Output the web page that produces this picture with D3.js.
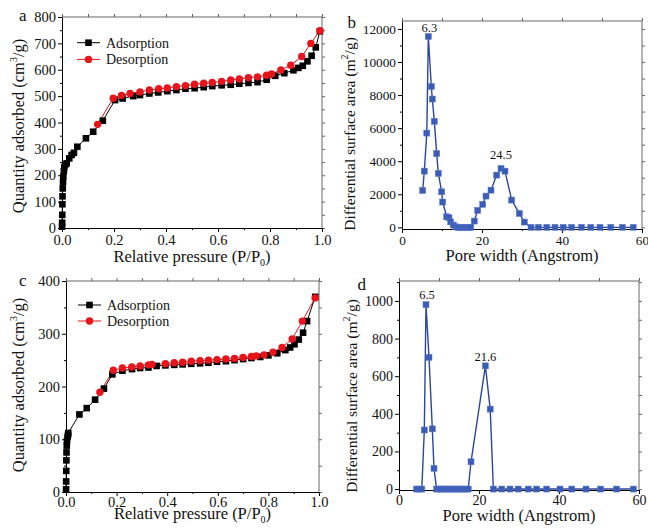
<!DOCTYPE html>
<html><head><meta charset="utf-8">
<script src="https://d3js.org/d3.v7.min.js"></script>
<style>
body{margin:0;background:#fff;}
svg{display:block;font-family:"Liberation Serif","Times New Roman",serif;}
</style></head>
<body><svg id="chart" width="648" height="528"></svg>
<script>
// ---------- DATA ----------
// Panel a: N2 isotherm (sample 1)
const aAdsP = [0.0003,0.0006,0.001,0.0015,0.002,0.003,0.004,0.005,0.007,0.009,0.012,0.018,0.028,0.037,0.046,0.059,0.092,0.12,0.157,0.204,0.233,0.274,0.30,0.336,0.37,0.405,0.44,0.475,0.51,0.545,0.578,0.614,0.649,0.682,0.717,0.752,0.787,0.82,0.855,0.89,0.909,0.926,0.944,0.96,0.976,0.992];
const aAdsV = [5,20,50,90,120,150,175,195,215,230,240,245,264,277,285,308,340,365,407,485,491,500,504,510,514,519,523,528,530,534,538,541,543,547,550,553,562,577,587,598,607,615,632,653,685,746];
const aDesP = [0.992,0.957,0.922,0.88,0.842,0.806,0.787,0.752,0.717,0.682,0.649,0.614,0.578,0.545,0.51,0.475,0.44,0.405,0.372,0.336,0.30,0.262,0.229,0.197,0.137];
const aDesV = [748,700,650,617,599,584,579,573,570,565,561,556,552,549,545,540,536,531,528,523,516,510,503,492,393];
// Panel b: pore size distribution (sample 1)
const bW = [5.17,5.58,6.2,6.58,7.33,7.58,8.08,8.67,9.08,9.92,10.17,11.17,11.75,12.17,12.83,13.5,14,14.67,15.33,16,16.67,17.2,18.08,18.92,20.17,21,22.25,23.67,24.75,25.75,27.42,29.33,30.58,32.25,34.1,36.2,38.25,40.3,42.4,44.9,47.2,49.5,52.2,55.1,57.8];
const bV = [2230,3400,5700,11540,8520,7760,6410,4460,3260,2150,1530,640,580,330,140,30,0,0,0,0,0,0,380,1025,1390,1890,2250,3160,3560,3400,1650,840,320,0,0,0,0,0,0,0,0,0,0,0,0];
// Panel c: N2 isotherm (sample 2)
const cAdsP = [0.0003,0.0006,0.001,0.0015,0.002,0.003,0.004,0.006,0.008,0.009,0.053,0.082,0.115,0.150,0.183,0.223,0.261,0.293,0.326,0.358,0.393,0.428,0.461,0.495,0.53,0.563,0.597,0.632,0.666,0.70,0.733,0.768,0.80,0.835,0.867,0.886,0.903,0.92,0.937,0.953,0.985];
const cAdsV = [5,20,40,60,75,88,97,104,108,112,147,159,175,196,223,230,233,235,236,239,240,241,242,243,244,245,247,248,250,252,254,256,259,263,269,274,280,289,302,324,370];
const cDesP = [0.985,0.934,0.894,0.854,0.818,0.783,0.752,0.733,0.70,0.666,0.632,0.597,0.563,0.53,0.495,0.461,0.428,0.393,0.34,0.326,0.293,0.26,0.223,0.187,0.134];
const cDesV = [368,324,290,274,265,260,258,257,255,253,252,251,250,249,248,246,245,243,242,241,239,237,235,231,189];
// Panel d: pore size distribution (sample 2)
const dW = [4.4,5.0,5.7,6.33,6.75,7.5,8.33,8.75,9.4,10,10.6,11.3,12,12.6,13.3,14,14.6,15.3,16,16.6,17.3,18,21.6,22.8,23.6,25.7,27.75,29.8,32.3,34.4,36.9,40.25,43.2,46.75,50.4,54.4,58.6];
const dV = [0,0,0,314,980,700,320,110,0,0,0,0,0,0,0,0,0,0,0,0,0,145,655,425,0,0,0,0,0,0,0,0,0,0,0,0,0];
// Ticks and labels
const isoXTicks = [0,0.2,0.4,0.6,0.8,1.0];
const aYTicks = [0,100,200,300,400,500,600,700,800];
const cYTicks = [0,100,200,300,400];
const poreXTicks = [0,20,40,60];
const bYTicks = [0,2000,4000,6000,8000,10000,12000];
const dYTicks = [0,200,400,600,800,1000];
const legendNames = ["Adsorption","Desorption"];
const bPeaks = [{w:6.58,v:11540,t:"6.3"},{w:24.75,v:3560,t:"24.5"}];
const dPeaks = [{w:6.75,v:980,t:"6.5"},{w:21.6,v:655,t:"21.6"}];

// ---------- DRAW ----------
const svg = d3.select("#chart");
const RED = "#e8141c", BLUE_L = "#2c4797", BLUE_M = "#3b5cb6";
const SERIF = "Liberation Serif, Times New Roman, serif";

function zip(xs, ys){ return xs.map((x,i)=>[x, ys[i]]); }

function frame(g, x, y, cfg){
  const [x0,x1] = x.range(), [y0,y1] = y.range();
  g.append("g").attr("transform",`translate(0,${y0})`)
    .call(d3.axisBottom(x).tickValues(cfg.xMinor).tickSize(2).tickSizeOuter(0).tickFormat(""))
    .call(s=>s.select(".domain").remove());
  g.append("g").attr("transform",`translate(${x0},0)`)
    .call(d3.axisLeft(y).tickValues(cfg.yMinor).tickSize(2).tickSizeOuter(0).tickFormat(""))
    .call(s=>s.select(".domain").remove());
  g.append("g").attr("transform",`translate(0,${y1})`)
    .call(d3.axisTop(x).tickValues(cfg.xMinor.concat(cfg.xTicks)).tickSize(3).tickSizeOuter(0).tickFormat(""))
    .call(s=>{s.select(".domain").remove(); s.selectAll("line").attr("stroke","#666");});
  g.append("g").attr("transform",`translate(${x1},0)`)
    .call(d3.axisRight(y).tickValues(cfg.yMinor.concat(cfg.yTicks)).tickSize(3).tickSizeOuter(0).tickFormat(""))
    .call(s=>{s.select(".domain").remove(); s.selectAll("line").attr("stroke","#666");});
  g.append("line").attr("x1",x0).attr("x2",x1).attr("y1",y1).attr("y2",y1).attr("stroke","#666");
  g.append("line").attr("x1",x1).attr("x2",x1).attr("y1",y0).attr("y2",y1).attr("stroke","#666");
  const ax = g.append("g").attr("transform",`translate(0,${y0})`)
    .call(d3.axisBottom(x).tickValues(cfg.xTicks).tickSize(4).tickSizeOuter(0).tickPadding(cfg.xPad).tickFormat(cfg.fmtX));
  ax.attr("font-family",SERIF);
  ax.select(".domain").attr("stroke","#000");
  ax.selectAll("text").attr("font-family",SERIF).attr("font-size",cfg.tickFont).attr("fill","#111");
  const ay = g.append("g").attr("transform",`translate(${x0},0)`)
    .call(d3.axisLeft(y).tickValues(cfg.yTicks).tickSize(4).tickSizeOuter(0).tickPadding(2).tickFormat(cfg.fmtY));
  ay.attr("font-family",SERIF);
  ay.select(".domain").attr("stroke","#000");
  ay.selectAll("text").attr("font-family",SERIF).attr("font-size",cfg.tickFont).attr("fill","#111");
}

function yTitle(g, xb, yc, fs, parts){
  const t = g.append("text").attr("transform",`translate(${xb},${yc}) rotate(-90)`)
    .attr("text-anchor","middle").attr("font-size",fs).attr("fill","#111");
  parts.forEach(p=>{
    const ts = t.append("tspan").text(p.t);
    if(p.sup){ ts.attr("font-size",10).attr("dy",-7); }
    if(p.back){ ts.attr("dy",7); }
  });
}
function xTitleIso(g, xc, yb){
  const t = g.append("text").attr("x",xc).attr("y",yb).attr("text-anchor","middle")
    .attr("font-size",16.5).attr("fill","#111");
  t.append("tspan").text("Relative pressure (P/P");
  t.append("tspan").text("0").attr("font-size",10).attr("dy",4);
  t.append("tspan").text(")").attr("dy",-4);
}

function isoPanel(cfg){
  const g = svg.append("g");
  const x = d3.scaleLinear().domain([0,1]).range(cfg.xr);
  const y = d3.scaleLinear().domain(cfg.yd).range(cfg.yr);
  frame(g, x, y, {xTicks:isoXTicks, xMinor:[0.1,0.3,0.5,0.7,0.9],
    yTicks:cfg.yTicks, yMinor:cfg.yTicks.slice(0,-1).map(v=>v+50),
    fmtX:d3.format(".1f"), fmtY:d3.format("d"), tickFont:14.5, xPad:cfg.xPad});
  const line = d3.line().x(d=>x(d[0])).y(d=>y(d[1]));
  const ads = zip(cfg.adsP, cfg.adsV), des = zip(cfg.desP, cfg.desV);
  g.append("path").datum(des).attr("d",line).attr("fill","none").attr("stroke",RED).attr("stroke-width",1);
  g.append("path").datum(ads).attr("d",line).attr("fill","none").attr("stroke","#000").attr("stroke-width",1);
  g.selectAll(".sq").data(ads).join("rect").attr("x",d=>x(d[0])-3.3).attr("y",d=>y(d[1])-3.3)
    .attr("width",6.6).attr("height",6.6).attr("fill","#000");
  g.selectAll(".ci").data(des).join("circle").attr("cx",d=>x(d[0])).attr("cy",d=>y(d[1]))
    .attr("r",3.7).attr("fill",RED);
  const [lx, ly] = cfg.leg;
  const L = g.append("g");
  L.append("line").attr("x1",lx).attr("x2",lx+23).attr("y1",ly).attr("y2",ly).attr("stroke","#000");
  L.append("rect").attr("x",lx+11.5-3.3).attr("y",ly-3.3).attr("width",6.6).attr("height",6.6).attr("fill","#000");
  L.append("text").attr("x",lx+29).attr("y",ly+5).attr("font-size",14).attr("fill","#111").text(legendNames[0]);
  L.append("line").attr("x1",lx).attr("x2",lx+23).attr("y1",ly+cfg.legGap).attr("y2",ly+cfg.legGap).attr("stroke",RED);
  L.append("circle").attr("cx",lx+11.5).attr("cy",ly+cfg.legGap).attr("r",3.7).attr("fill",RED);
  L.append("text").attr("x",lx+29).attr("y",ly+cfg.legGap+5).attr("font-size",14).attr("fill","#111").text(legendNames[1]);
  yTitle(g, cfg.ytx, cfg.ytc, 16.5, [{t:"Quantity adsorbed (cm"},{t:"3",sup:true},{t:"/g)",back:true}]);
  xTitleIso(g, (cfg.xr[0]+cfg.xr[1])/2, cfg.xtb);
  g.append("text").attr("x",cfg.lab[0]).attr("y",cfg.lab[1]).attr("font-size",17).attr("text-anchor","middle").attr("fill","#111").text(cfg.label);
}

function porePanel(cfg){
  const g = svg.append("g");
  const x = d3.scaleLinear().domain([0,60]).range(cfg.xr);
  const y = d3.scaleLinear().domain(cfg.yd).range(cfg.yr);
  const step = cfg.yTicks[1]-cfg.yTicks[0];
  frame(g, x, y, {xTicks:poreXTicks, xMinor:[10,30,50],
    yTicks:cfg.yTicks, yMinor:cfg.yTicks.map(v=>v+step/2).filter(v=>v<cfg.yd[1]),
    fmtX:d3.format("d"), fmtY:d3.format("d"), tickFont:cfg.tickFont, xPad:cfg.xPad});
  const pts = zip(cfg.w, cfg.v);
  const line = d3.line().x(d=>x(d[0])).y(d=>y(d[1]));
  g.append("path").datum(pts).attr("d",line).attr("fill","none").attr("stroke",BLUE_L).attr("stroke-width",1.4);
  g.selectAll(".sq").data(pts).join("rect").attr("x",d=>x(d[0])-3).attr("y",d=>y(d[1])-3)
    .attr("width",6).attr("height",6).attr("fill",BLUE_M).attr("stroke","#5a78c8").attr("stroke-width",0.5);
  cfg.peaks.forEach((p,i)=>{
    g.append("text").attr("x",x(p.w)+cfg.pdx[i]).attr("y",y(p.v)-cfg.pdy[i]).attr("text-anchor","middle")
      .attr("font-size",12.5).attr("fill","#111").text(p.t);
  });
  yTitle(g, cfg.ytx, cfg.ytc, 15.5, [{t:"Differential surface area (m"},{t:"2",sup:true},{t:"/g)",back:true}]);
  g.append("text").attr("x",(cfg.xr[0]+cfg.xr[1])/2).attr("y",cfg.xtb).attr("text-anchor","middle")
    .attr("font-size",16.5).attr("fill","#111").text("Pore width (Angstrom)");
  g.append("text").attr("x",cfg.lab[0]).attr("y",cfg.lab[1]).attr("font-size",17).attr("text-anchor","middle").attr("fill","#111").text(cfg.label);
}

isoPanel({xr:[62,322], yd:[0,800], yr:[228,17], yTicks:aYTicks, adsP:aAdsP, adsV:aAdsV, desP:aDesP, desV:aDesV,
  leg:[77,42.7], legGap:16.7, ytx:24, ytc:126, xtb:262, xPad:3, lab:[22.7,21], label:"a"});
isoPanel({xr:[66,319], yd:[0,400], yr:[492,281], yTicks:cYTicks, adsP:cAdsP, adsV:cAdsV, desP:cDesP, desV:cDesV,
  leg:[78,305], legGap:16, ytx:24, ytc:385, xtb:519, xPad:0.5, lab:[22.7,286], label:"c"});
porePanel({xr:[402,642], yd:[-100,12480], yr:[229,21], yTicks:bYTicks, w:bW, v:bV, peaks:bPeaks,
  pdx:[1,0], pdy:[5,9], tickFont:13.3, xPad:3, ytx:355, ytc:134, xtb:261, lab:[351.7,28], label:"b"});
porePanel({xr:[399,639], yd:[-5,1106], yr:[490,281], yTicks:dYTicks, w:dW, v:dV, peaks:dPeaks,
  pdx:[1,0], pdy:[6,4.5], tickFont:14, xPad:1.5, ytx:357, ytc:396, xtb:521, lab:[361.7,290], label:"d"});
</script></body></html>
